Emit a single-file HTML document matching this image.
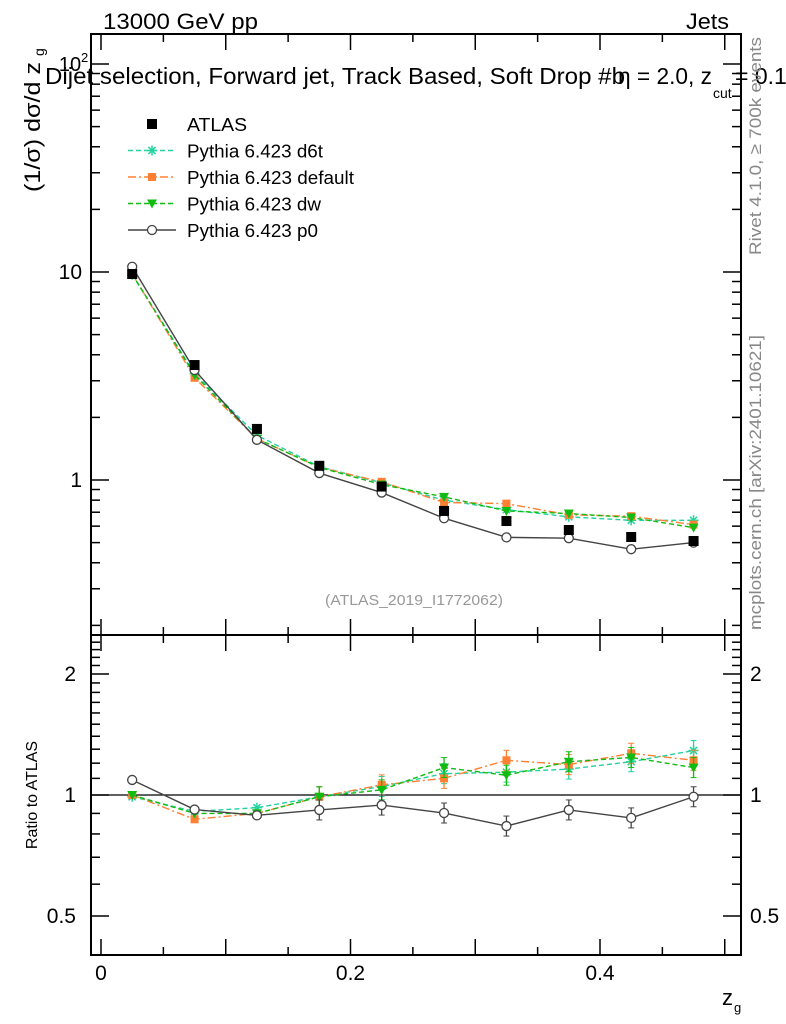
<!DOCTYPE html>
<html><head><meta charset="utf-8"><style>
body{margin:0;background:#fff;}
svg{display:block;font-family:"Liberation Sans",sans-serif;}
</style></head><body>
<svg id="c" width="786" height="1024" viewBox="0 0 786 1024"></svg>
<script>
const xs=[0.025,0.075,0.125,0.175,0.225,0.275,0.325,0.375,0.425,0.475];
const atlas=[9.78,3.57,1.76,1.17,0.93,0.71,0.635,0.575,0.532,0.509];
const d6t=[9.7,3.25,1.64,1.16,0.97,0.80,0.72,0.665,0.64,0.64];
const deflt=[9.8,3.1,1.58,1.15,0.98,0.78,0.77,0.68,0.67,0.61];
const dw=[9.78,3.2,1.58,1.15,0.95,0.83,0.71,0.69,0.66,0.59];
const p0=[10.6,3.38,1.56,1.08,0.87,0.655,0.53,0.525,0.465,0.50];
const r_d6t=[0.99,0.91,0.93,0.99,1.05,1.13,1.14,1.16,1.21,1.29];
const r_def=[1.0,0.87,0.90,0.99,1.06,1.10,1.22,1.19,1.27,1.22];
const r_dw=[1.0,0.90,0.90,0.99,1.03,1.17,1.12,1.21,1.24,1.17];
const r_p0=[1.09,0.92,0.89,0.918,0.944,0.902,0.837,0.918,0.877,0.99];
const xTicks=[0,0.2,0.4];
const xTickLabels=["0","0.2","0.4"];
const ratioTicks=[0.5,1,2];
const ratioTickLabels=["0.5","1","2"];

const L=91,R=741,T=34,B=635,RB=955;
const X=v=>101+v*1247.5;
const Y=v=>480-208*Math.log10(v);
const RY=v=>795-121*Math.log2(v);
const svg=document.getElementById('c');
const NS='http://www.w3.org/2000/svg';
function mk(tag,attrs,parent){const e=document.createElementNS(NS,tag);for(const k in attrs)e.setAttribute(k,attrs[k]);(parent||svg).appendChild(e);return e;}
function txt(s,attrs,parent){const e=mk('text',attrs,parent);e.textContent=s;if(attrs.textLength)e.setAttribute('lengthAdjust','spacingAndGlyphs');return e;}

let f1=mk('rect',{x:L,y:T,width:R-L,height:B-T,fill:'none',stroke:'#000','stroke-width':2});


let f2=mk('rect',{x:L,y:B,width:R-L,height:RB-B,fill:'none',stroke:'#000','stroke-width':2});



for(let v=0;v<=0.51;v+=0.05){
  const major=Math.abs(v*10-Math.round(v*10))<1e-6;
  const len=major?16:8, x=X(v);
  [[B,-1],[T,1],[RB,-1],[B,1]].forEach(([y0,d])=>mk('line',{x1:x,x2:x,y1:y0,y2:y0+d*len,stroke:'#000','stroke-width':1.5}));
}
xTicks.forEach((v,i)=>{const t=txt(xTickLabels[i],{x:X(v),y:980,'font-size':21,'text-anchor':'middle'});
});
for(let e=-1;e<=2;e++)for(let m=1;m<10;m++){const v=m*Math.pow(10,e);const y=Y(v);if(y<T||y>B)continue;
 const len=m==1?18:9;mk('line',{x1:L,x2:L+len,y1:y,y2:y,stroke:'#000','stroke-width':1.5});mk('line',{x1:R,x2:R-len,y1:y,y2:y,stroke:'#000','stroke-width':1.5});}
let yl=txt('10',{x:82,y:279,'font-size':21,'text-anchor':'end'});
yl=txt('1',{x:82,y:487,'font-size':21,'text-anchor':'end'});
yl=txt('10',{x:70,y:71,'font-size':20,'text-anchor':'middle'});
txt('2',{x:81,y:62,'font-size':13});
for(let v=0.4;v<=2.5;v+=0.1){const y=RY(v);if(y<B||y>RB)continue;const maj=[0.5,1,2].some(m=>Math.abs(m-v)<1e-6);const len=maj?18:9;
 mk('line',{x1:L,x2:L+len,y1:y,y2:y,stroke:'#000','stroke-width':1.5});mk('line',{x1:R,x2:R-len,y1:y,y2:y,stroke:'#000','stroke-width':1.5});}
ratioTicks.forEach((v,i)=>{const a=txt(ratioTickLabels[i],{x:76,y:RY(v)+7,'font-size':21,'text-anchor':'end'});

const b=txt(ratioTickLabels[i],{x:750,y:RY(v)+7,'font-size':21});
});
mk('line',{x1:L,x2:R,y1:RY(1),y2:RY(1),stroke:'#000','stroke-width':1.2});

let t;
t=txt('13000 GeV pp',{x:103,y:29,'font-size':22,textLength:155});
t=txt('Jets',{x:686,y:29,'font-size':22,textLength:43});
t=txt('Dijet selection, Forward jet, Track Based, Soft Drop #b',{x:45,y:84,'font-size':23,textLength:580});
t=txt('η = 2.0, z',{x:618,y:84,'font-size':23,textLength:94});
txt('cut',{x:713,y:98,'font-size':14});txt('= 0.1',{x:735,y:84,'font-size':23});
t=txt('(1/σ) dσ/d z',{x:0,y:0,'font-size':22,textLength:130,transform:'translate(40,192) rotate(-90)'});
txt('g',{x:0,y:0,'font-size':14,transform:'translate(44,56) rotate(-90)'});
t=txt('Ratio to ATLAS',{x:0,y:0,'font-size':16,'text-anchor':'middle',transform:'translate(37,795) rotate(-90)'});
t=txt('z',{x:722,y:1005,'font-size':22});
txt('g',{x:734,y:1012,'font-size':13});
t=txt('Rivet 4.1.0, ≥ 700k events',{x:0,y:0,'font-size':17,fill:'#888',textLength:218,transform:'translate(761,255) rotate(-90)'});
t=txt('mcplots.cern.ch [arXiv:2401.10621]',{x:0,y:0,'font-size':17,fill:'#888',textLength:295,transform:'translate(761,630) rotate(-90)'});
t=txt('(ATLAS_2019_I1772062)',{x:414,y:605,'font-size':15,fill:'#999','text-anchor':'middle',textLength:178});

function marker(kind,x,y,col,g){
 if(kind=='sq')mk('rect',{x:x-5,y:y-5,width:10,height:10,fill:col},g);
 else if(kind=='osq')mk('rect',{x:x-4,y:y-4,width:8,height:8,fill:col},g);
 else if(kind=='tri')mk('polygon',{points:`${x-5},${y-4} ${x+5},${y-4} ${x},${y+5}`,fill:col},g);
 else if(kind=='circ')mk('circle',{cx:x,cy:y,r:4.5,fill:'#fff',stroke:col,'stroke-width':1.3},g);
 else if(kind=='star'){for(let a=0;a<4;a++){const an=a*Math.PI/4;mk('line',{x1:x-5*Math.cos(an),y1:y-5*Math.sin(an),x2:x+5*Math.cos(an),y2:y+5*Math.sin(an),stroke:col,'stroke-width':1.5},g);}}
}
const series=[
 {name:'d6t',vals:d6t,r:r_d6t,col:'#22d3a0',dash:'5,3',m:'star'},
 {name:'default',vals:deflt,r:r_def,col:'#ff8033',dash:'8,3,2,3',m:'osq'},
 {name:'dw',vals:dw,r:r_dw,col:'#11bb11',dash:'5,3',m:'tri'},
 {name:'p0',vals:p0,r:r_p0,col:'#444',dash:'',m:'circ'}];
series.forEach(s=>{
 const g=mk('g',{});
 
 
 const pm=xs.map((x,i)=>X(x)+','+Y(s.vals[i])).join(' ');
 mk('polyline',{points:pm,fill:'none',stroke:s.col,'stroke-width':1.4,'stroke-dasharray':s.dash},g);
 xs.forEach((x,i)=>marker(s.m,X(x),Y(s.vals[i]),s.col,g));
 const pr=xs.map((x,i)=>X(x)+','+RY(s.r[i])).join(' ');
 mk('polyline',{points:pr,fill:'none',stroke:s.col,'stroke-width':1.4,'stroke-dasharray':s.dash},g);
 xs.forEach((x,i)=>{const y=RY(s.r[i]);if(i>2){mk('line',{x1:X(x),x2:X(x),y1:y-10,y2:y+10,stroke:s.col,'stroke-width':1.3},g);
  mk('line',{x1:X(x)-3,x2:X(x)+3,y1:y-10,y2:y-10,stroke:s.col},g);mk('line',{x1:X(x)-3,x2:X(x)+3,y1:y+10,y2:y+10,stroke:s.col},g);}
  marker(s.m,X(x),y,s.col,g);});
});
const ga=mk('g',{});


xs.forEach((x,i)=>marker('sq',X(x),Y(atlas[i]),'#000',ga));

const leg=[['ATLAS','#000','','sq',60],['Pythia 6.423 d6t','#22d3a0','5,3','star',136],['Pythia 6.423 default','#ff8033','8,3,2,3','osq',167],['Pythia 6.423 dw','#11bb11','5,3','tri',134],['Pythia 6.423 p0','#444','','circ',131]];
leg.forEach((l,i)=>{const y=124+i*26.5;const g=mk('g',{});
 
 
 if(i>0)mk('line',{x1:128,x2:176,y1:y,y2:y,stroke:l[1],'stroke-width':1.4,'stroke-dasharray':l[2]},g);
 marker(l[3],152,y,l[1],g);
 txt(l[0],{x:187,y:y+7,'font-size':18,textLength:l[4]},g);});
</script>
</body></html>
